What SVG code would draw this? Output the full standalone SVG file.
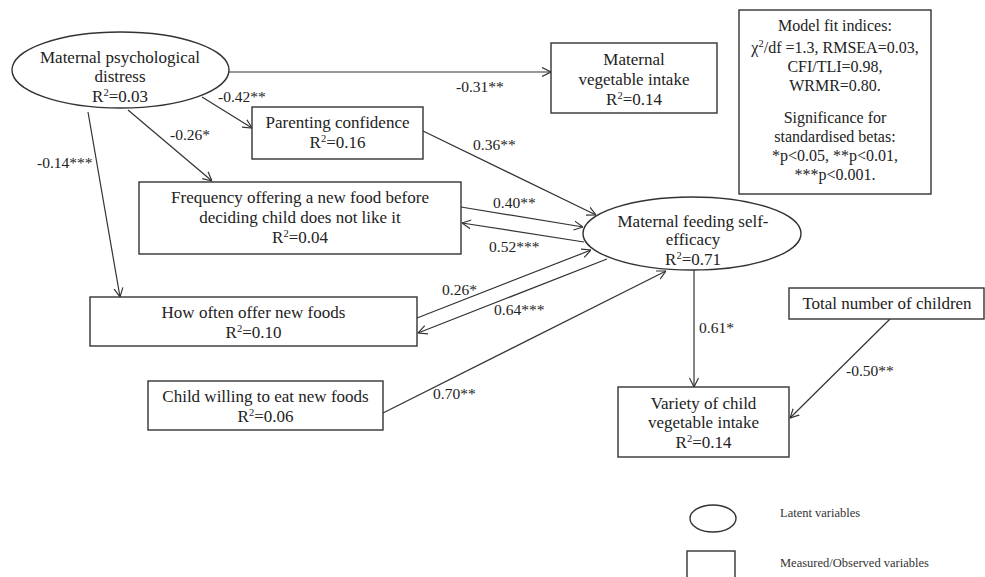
<svg xmlns="http://www.w3.org/2000/svg" width="985" height="577" viewBox="0 0 985 577">
  <style>
    text { font-family: "Liberation Serif", "Times New Roman", serif; fill: #222; }
    .node { font-size: 17px; text-anchor: middle; }
    .fit { font-size: 16px; text-anchor: middle; }
    .lbl { font-size: 15.5px; }
    .leg { font-size: 12.5px; fill: #333; }
    .sup { font-size: 10.5px; }
    .box { fill: #fff; stroke: #333; stroke-width: 1.4; }
    .edge { fill: none; stroke: #333; stroke-width: 1.2; marker-end: url(#arrow); }
  </style>
  <defs>
    <marker id="arrow" markerUnits="userSpaceOnUse" viewBox="0 0 10 10" refX="10" refY="5" markerWidth="9" markerHeight="11" orient="auto">
      <path d="M0,0 L10,5 L0,10" fill="none" stroke="#333" stroke-width="1.3"/>
    </marker>
  </defs>

  <rect x="0" y="0" width="985" height="577" fill="#fff"/>

  <!-- paths between variables -->
  <g id="connectors">
    <line class="edge" x1="229" y1="72" x2="551" y2="72"/>
    <line class="edge" x1="202" y1="97" x2="252" y2="128"/>
    <line class="edge" x1="128" y1="110" x2="212" y2="181"/>
    <line class="edge" x1="88" y1="112" x2="120" y2="297"/>
    <line class="edge" x1="423" y1="131" x2="596" y2="215"/>
    <line class="edge" x1="461" y1="207" x2="583" y2="227"/>
    <line class="edge" x1="584" y1="242" x2="462" y2="223"/>
    <line class="edge" x1="417" y1="318" x2="591" y2="250"/>
    <line class="edge" x1="607" y1="259" x2="418" y2="333"/>
    <line class="edge" x1="383" y1="413" x2="666" y2="271"/>
    <line class="edge" x1="694" y1="270" x2="694" y2="387"/>
    <line class="edge" x1="890" y1="319" x2="790" y2="418"/>

    <text class="lbl" x="456" y="92">-0.31**</text>
    <text class="lbl" x="218" y="102">-0.42**</text>
    <text class="lbl" x="170" y="140">-0.26*</text>
    <text class="lbl" x="37" y="168">-0.14***</text>
    <text class="lbl" x="473" y="150">0.36**</text>
    <text class="lbl" x="493" y="208">0.40**</text>
    <text class="lbl" x="489" y="252">0.52***</text>
    <text class="lbl" x="442" y="295">0.26*</text>
    <text class="lbl" x="494" y="315">0.64***</text>
    <text class="lbl" x="433" y="399">0.70**</text>
    <text class="lbl" x="699" y="333">0.61*</text>
    <text class="lbl" x="846" y="376">-0.50**</text>
  </g>

  <g id="maternal-distress">
    <ellipse class="box" cx="120.5" cy="70" rx="108.5" ry="38"/>
    <text class="node" x="120" y="63">Maternal psychological</text>
    <text class="node" x="120" y="82">distress</text>
    <text class="node" x="120" y="102">R<tspan class="sup" dy="-6">2</tspan><tspan dy="6">=0.03</tspan></text>
  </g>

  <g id="maternal-veg">
    <rect class="box" x="551" y="43" width="166" height="70"/>
    <text class="node" x="634" y="65">Maternal</text>
    <text class="node" x="634" y="85">vegetable intake</text>
    <text class="node" x="634" y="105">R<tspan class="sup" dy="-6">2</tspan><tspan dy="6">=0.14</tspan></text>
  </g>

  <g id="model-fit">
    <rect class="box" x="739" y="10" width="192" height="184"/>
    <text class="fit" x="835" y="31">Model fit indices:</text>
    <text class="fit" x="835" y="53">χ<tspan class="sup" dy="-6">2</tspan><tspan dy="6">/df =1.3, RMSEA=0.03,</tspan></text>
    <text class="fit" x="835" y="72">CFI/TLI=0.98,</text>
    <text class="fit" x="835" y="91">WRMR=0.80.</text>
    <text class="fit" x="835" y="123">Significance for</text>
    <text class="fit" x="835" y="142">standardised betas:</text>
    <text class="fit" x="835" y="161">*p&lt;0.05, **p&lt;0.01,</text>
    <text class="fit" x="835" y="180">***p&lt;0.001.</text>
  </g>

  <g id="parenting-confidence">
    <rect class="box" x="252" y="107" width="171" height="52"/>
    <text class="node" x="337.5" y="128">Parenting confidence</text>
    <text class="node" x="337.5" y="148">R<tspan class="sup" dy="-6">2</tspan><tspan dy="6">=0.16</tspan></text>
  </g>

  <g id="frequency-new-food">
    <rect class="box" x="139" y="182" width="322" height="72"/>
    <text class="node" x="300" y="203">Frequency offering a new food before</text>
    <text class="node" x="300" y="223">deciding child does not like it</text>
    <text class="node" x="300" y="243">R<tspan class="sup" dy="-6">2</tspan><tspan dy="6">=0.04</tspan></text>
  </g>

  <g id="how-often">
    <rect class="box" x="90" y="297" width="327" height="49"/>
    <text class="node" x="253.5" y="318">How often offer new foods</text>
    <text class="node" x="253.5" y="338">R<tspan class="sup" dy="-6">2</tspan><tspan dy="6">=0.10</tspan></text>
  </g>

  <g id="child-willing">
    <rect class="box" x="148" y="381" width="235" height="49"/>
    <text class="node" x="265.5" y="402">Child willing to eat new foods</text>
    <text class="node" x="265.5" y="422">R<tspan class="sup" dy="-6">2</tspan><tspan dy="6">=0.06</tspan></text>
  </g>

  <g id="feeding-self-efficacy">
    <ellipse class="box" cx="692" cy="233.5" rx="109" ry="36.5"/>
    <text class="node" x="693" y="227">Maternal feeding self-</text>
    <text class="node" x="693" y="245">efficacy</text>
    <text class="node" x="693" y="265">R<tspan class="sup" dy="-6">2</tspan><tspan dy="6">=0.71</tspan></text>
  </g>

  <g id="total-children">
    <rect class="box" x="789" y="288" width="195" height="31"/>
    <text class="node" x="887" y="309">Total number of children</text>
  </g>

  <g id="child-veg-variety">
    <rect class="box" x="618" y="387" width="171" height="70"/>
    <text class="node" x="703.5" y="409">Variety of child</text>
    <text class="node" x="703.5" y="428">vegetable intake</text>
    <text class="node" x="703.5" y="448">R<tspan class="sup" dy="-6">2</tspan><tspan dy="6">=0.14</tspan></text>
  </g>

  <g id="legend">
    <ellipse class="box" cx="713" cy="518.5" rx="23" ry="13.5"/>
    <text class="leg" x="780" y="517">Latent variables</text>
    <rect class="box" x="687" y="551" width="48" height="35"/>
    <text class="leg" x="780" y="567">Measured/Observed variables</text>
  </g>
</svg>
